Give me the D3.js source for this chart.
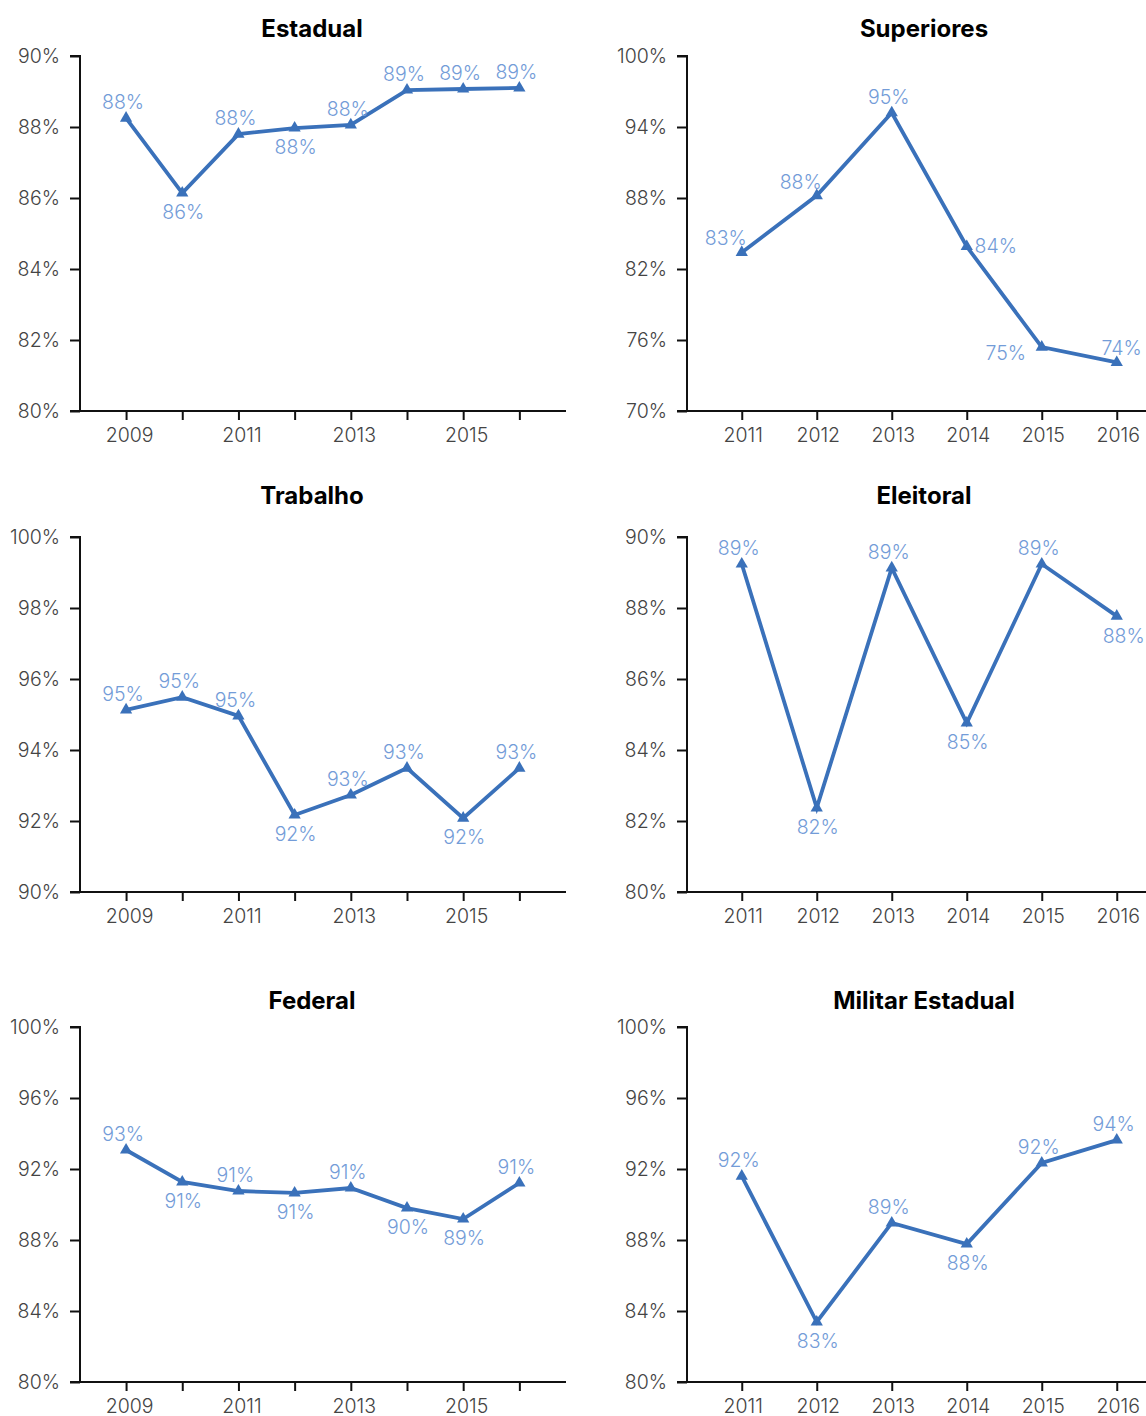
<!DOCTYPE html>
<html>
<head>
<meta charset="utf-8">
<script src="https://cdn.jsdelivr.net/npm/d3@7"></script>
<style>
  html, body { margin: 0; padding: 0; background: #fff; overflow: hidden; }
  svg { display: block; }
</style>
</head>
<body>
<svg id="chart" width="1146" height="1416"></svg>
<script>
// ---------- DATA ----------
const yearsLong = [2009, 2010, 2011, 2012, 2013, 2014, 2015, 2016];
const yearsShort = [2011, 2012, 2013, 2014, 2015, 2016];
const yearLabelsLong = [2009, 2011, 2013, 2015];
const yearLabelsShort = [2011, 2012, 2013, 2014, 2015, 2016];

const titles = ["Estadual", "Superiores", "Trabalho", "Eleitoral", "Federal", "Militar Estadual"];

const estadualValues   = [88.25, 86.14, 87.80, 87.97, 88.06, 89.04, 89.07, 89.10];
const superioresValues = [83.4, 88.2, 95.2, 83.9, 75.4, 74.1];
const trabalhoValues   = [95.13, 95.49, 94.96, 92.17, 92.73, 93.49, 92.08, 93.49];
const eleitoralValues  = [89.24, 82.37, 89.13, 84.76, 89.24, 87.77];
const federalValues    = [93.07, 91.27, 90.76, 90.65, 90.93, 89.80, 89.18, 91.21];
const militarValues    = [91.6, 83.38, 88.96, 87.77, 92.34, 93.63];

const estadualTicks   = [80, 82, 84, 86, 88, 90];
const superioresTicks = [70, 76, 82, 88, 94, 100];
const trabalhoTicks   = [90, 92, 94, 96, 98, 100];
const eleitoralTicks  = [80, 82, 84, 86, 88, 90];
const federalTicks    = [80, 84, 88, 92, 96, 100];
const militarTicks    = [80, 84, 88, 92, 96, 100];

// label placement: a = above, b = below, al = above-left, r = right, l = left, ar = above-right, br = below-right
const estadualLabelPos   = ["a", "b", "a", "b", "a", "a", "a", "a"];
const superioresLabelPos = ["al", "al", "a", "r", "l", "ar"];
const trabalhoLabelPos   = ["a", "a", "a", "b", "a", "a", "b", "a"];
const eleitoralLabelPos  = ["a", "b", "a", "b", "a", "br"];
const federalLabelPos    = ["a", "b", "a", "b", "a", "b", "b", "a"];
const militarLabelPos    = ["a", "b", "a", "b", "a", "a"];

// ---------- LAYOUT / STYLE ----------
const FONT = "Inter, 'Open Sans', 'Noto Sans', sans-serif";
const LINE_COLOR = "#3a71ba";
const LABEL_COLOR = "#739cd8";
const TICK_COLOR = "#444";
const PLOT_W = 486, PLOT_H = 355;

const colX = [80, 687];
const rowY = [56, 537, 1027];
const titleBase = [37, 504, 1009];
const titleCenter = [312, 924];

const offsets = {
  a:  [-3, -9],
  b:  [1, 26],
  al: [-16, -7],
  r:  [29, 6],
  l:  [-36, 13],
  ar: [5, -7],
  br: [7, 27]
};

const panels = [
  { title: titles[0], years: yearsLong,  values: estadualValues,   ticks: estadualTicks,   labelPos: estadualLabelPos,   col: 0, row: 0 },
  { title: titles[1], years: yearsShort, values: superioresValues, ticks: superioresTicks, labelPos: superioresLabelPos, col: 1, row: 0 },
  { title: titles[2], years: yearsLong,  values: trabalhoValues,   ticks: trabalhoTicks,   labelPos: trabalhoLabelPos,   col: 0, row: 1 },
  { title: titles[3], years: yearsShort, values: eleitoralValues,  ticks: eleitoralTicks,  labelPos: eleitoralLabelPos,  col: 1, row: 1 },
  { title: titles[4], years: yearsLong,  values: federalValues,    ticks: federalTicks,    labelPos: federalLabelPos,    col: 0, row: 2 },
  { title: titles[5], years: yearsShort, values: militarValues,    ticks: militarTicks,    labelPos: militarLabelPos,    col: 1, row: 2 }
];

const svg = d3.select("#chart");

panels.forEach(p => {
  const long = p.years.length === 8;
  const x = d3.scaleLinear()
    .domain(long ? [2008.18, 2016.83] : [2010.27, 2016.75])
    .range([0, PLOT_W]);
  const y = d3.scaleLinear()
    .domain([d3.min(p.ticks), d3.max(p.ticks)])
    .range([PLOT_H, 0]);

  const g = svg.append("g")
    .attr("transform", `translate(${colX[p.col]},${rowY[p.row]})`);

  // title
  svg.append("text")
    .attr("x", titleCenter[p.col])
    .attr("y", titleBase[p.row])
    .attr("text-anchor", "middle")
    .attr("font-family", FONT)
    .attr("font-weight", 700)
    .attr("font-size", 24)
    .attr("fill", "#000")
    .text(p.title);

  // y axis
  const yAxis = d3.axisLeft(y)
    .tickValues(p.ticks)
    .tickFormat(d => d + "%")
    .tickSize(10)
    .tickPadding(10);
  const ya = g.append("g").call(yAxis);
  ya.select(".domain").attr("stroke", "#111").attr("stroke-width", 2).attr("d", `M-10,0H0V${PLOT_H}`);
  ya.selectAll(".tick line").attr("stroke", "#111").attr("stroke-width", 2);
  ya.selectAll(".tick text")
    .attr("font-family", FONT).attr("font-weight", 300)
    .attr("font-size", 19.5).attr("fill", TICK_COLOR);

  // x axis
  const labelSet = new Set(long ? yearLabelsLong : yearLabelsShort);
  const xAxis = d3.axisBottom(x)
    .tickValues(p.years)
    .tickFormat(d => labelSet.has(d) ? String(d) : "")
    .tickSize(9)
    .tickPadding(8)
    .tickSizeOuter(0);
  const xa = g.append("g").attr("transform", `translate(0,${PLOT_H})`).call(xAxis);
  xa.select(".domain").attr("stroke", "#111").attr("stroke-width", 2).attr("d", `M-10,0H${PLOT_W}`);
  xa.selectAll(".tick line").attr("stroke", "#111").attr("stroke-width", 2);
  xa.selectAll(".tick text")
    .attr("font-family", FONT).attr("font-weight", 300)
    .attr("font-size", 19.5).attr("fill", TICK_COLOR)
    .attr("dx", long ? 3 : 1);

  const pts = p.years.map((yr, i) => ({ yr, v: p.values[i], pos: p.labelPos[i] }));

  // line
  g.append("path")
    .datum(pts)
    .attr("fill", "none")
    .attr("stroke", LINE_COLOR)
    .attr("stroke-width", 3.8)
    .attr("stroke-linejoin", "miter")
    .attr("d", d3.line().x(d => x(d.yr)).y(d => y(d.v)));

  // markers
  g.selectAll(".marker")
    .data(pts)
    .join("path")
    .attr("class", "marker")
    .attr("transform", d => `translate(${x(d.yr)},${y(d.v)})`)
    .attr("d", d3.symbol().type(d3.symbolTriangle).size(65))
    .attr("fill", LINE_COLOR);

  // value labels
  g.selectAll(".vlabel")
    .data(pts)
    .join("text")
    .attr("class", "vlabel")
    .attr("x", d => x(d.yr) + offsets[d.pos][0])
    .attr("y", d => y(d.v) + offsets[d.pos][1])
    .attr("text-anchor", "middle")
    .attr("font-family", FONT)
    .attr("font-weight", 300)
    .attr("font-size", 19.5)
    .attr("fill", LABEL_COLOR)
    .text(d => Math.round(d.v) + "%");
});
</script>
</body>
</html>
